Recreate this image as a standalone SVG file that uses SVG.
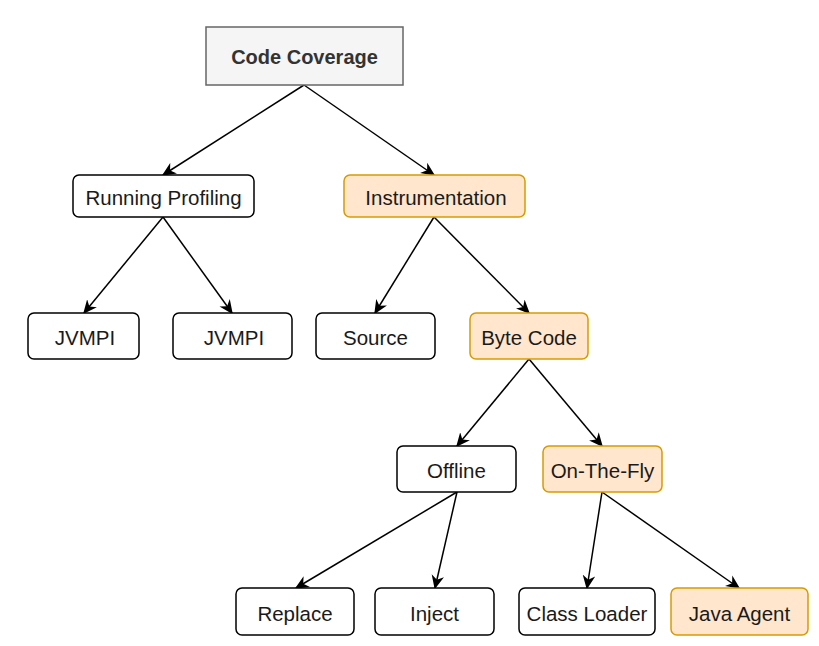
<svg xmlns="http://www.w3.org/2000/svg" width="819" height="646" viewBox="0 0 819 646">
<style>
.n{fill:#ffffff;stroke:#000000;stroke-width:1.5}
.o{fill:#ffe6cc;stroke:#d79b00;stroke-width:1.5}
.g{fill:#f5f5f5;stroke:#666666;stroke-width:1.5}
text{font-family:"Liberation Sans",Arial,sans-serif;font-size:20.5px;fill:#1a1a1a;text-anchor:middle;dominant-baseline:central}
.b{font-weight:bold;fill:#333333;font-size:20px}
.e{stroke:#000000;stroke-width:1.5;fill:none;marker-end:url(#a)}
</style>
<defs>
<marker id="a" viewBox="0 0 10 10" refX="9" refY="5" markerWidth="14" markerHeight="14" markerUnits="userSpaceOnUse" orient="auto">
<path d="M0,0.5 L10,5 L0,9.5 L3,5 Z" fill="#000"/>
</marker>
</defs>
<rect width="819" height="646" fill="#ffffff"/>
<g id="connectors">
<line class="e" x1="304" y1="85" x2="163" y2="175"/>
<line class="e" x1="304" y1="85" x2="434" y2="175"/>
<line class="e" x1="163" y1="217" x2="84" y2="313"/>
<line class="e" x1="163" y1="217" x2="232" y2="313"/>
<line class="e" x1="434" y1="217" x2="375" y2="313"/>
<line class="e" x1="434" y1="217" x2="529" y2="313"/>
<line class="e" x1="529" y1="359" x2="457" y2="446"/>
<line class="e" x1="529" y1="359" x2="602" y2="446"/>
<line class="e" x1="457" y1="492" x2="296" y2="588"/>
<line class="e" x1="457" y1="492" x2="435" y2="588"/>
<line class="e" x1="602" y1="492" x2="587" y2="588"/>
<line class="e" x1="602" y1="492" x2="739" y2="588"/>
</g>
<g id="code-coverage"><rect class="g" x="206" y="27" width="197" height="58"/><text class="b" x="304.5" y="57">Code Coverage</text></g>
<g id="running-profiling"><rect class="n" x="73" y="175" width="181" height="42" rx="6"/><text x="163.5" y="197">Running Profiling</text></g>
<g id="instrumentation"><rect class="o" x="344" y="175" width="181" height="42" rx="6"/><text x="436" y="197">Instrumentation</text></g>
<g id="jvmpi-1"><rect class="n" x="28" y="313" width="111" height="46" rx="6"/><text x="85" y="337">JVMPI</text></g>
<g id="jvmpi-2"><rect class="n" x="173" y="313" width="119" height="46" rx="6"/><text x="234" y="337">JVMPI</text></g>
<g id="source"><rect class="n" x="316" y="313" width="119" height="46" rx="6"/><text x="375.5" y="337">Source</text></g>
<g id="byte-code"><rect class="o" x="470" y="313" width="118" height="46" rx="6"/><text x="529" y="337">Byte Code</text></g>
<g id="offline"><rect class="n" x="397" y="446" width="119" height="46" rx="6"/><text x="456.5" y="470">Offline</text></g>
<g id="on-the-fly"><rect class="o" x="543" y="446" width="119" height="46" rx="6"/><text x="602.5" y="470">On-The-Fly</text></g>
<g id="replace"><rect class="n" x="236" y="588" width="118" height="47" rx="6"/><text x="295" y="613">Replace</text></g>
<g id="inject"><rect class="n" x="375" y="588" width="119" height="47" rx="6"/><text x="434.5" y="613">Inject</text></g>
<g id="class-loader"><rect class="n" x="519" y="588" width="136" height="47" rx="6"/><text x="587" y="613">Class Loader</text></g>
<g id="java-agent"><rect class="o" x="671" y="588" width="137" height="47" rx="6"/><text x="739.5" y="613">Java Agent</text></g>
</svg>
